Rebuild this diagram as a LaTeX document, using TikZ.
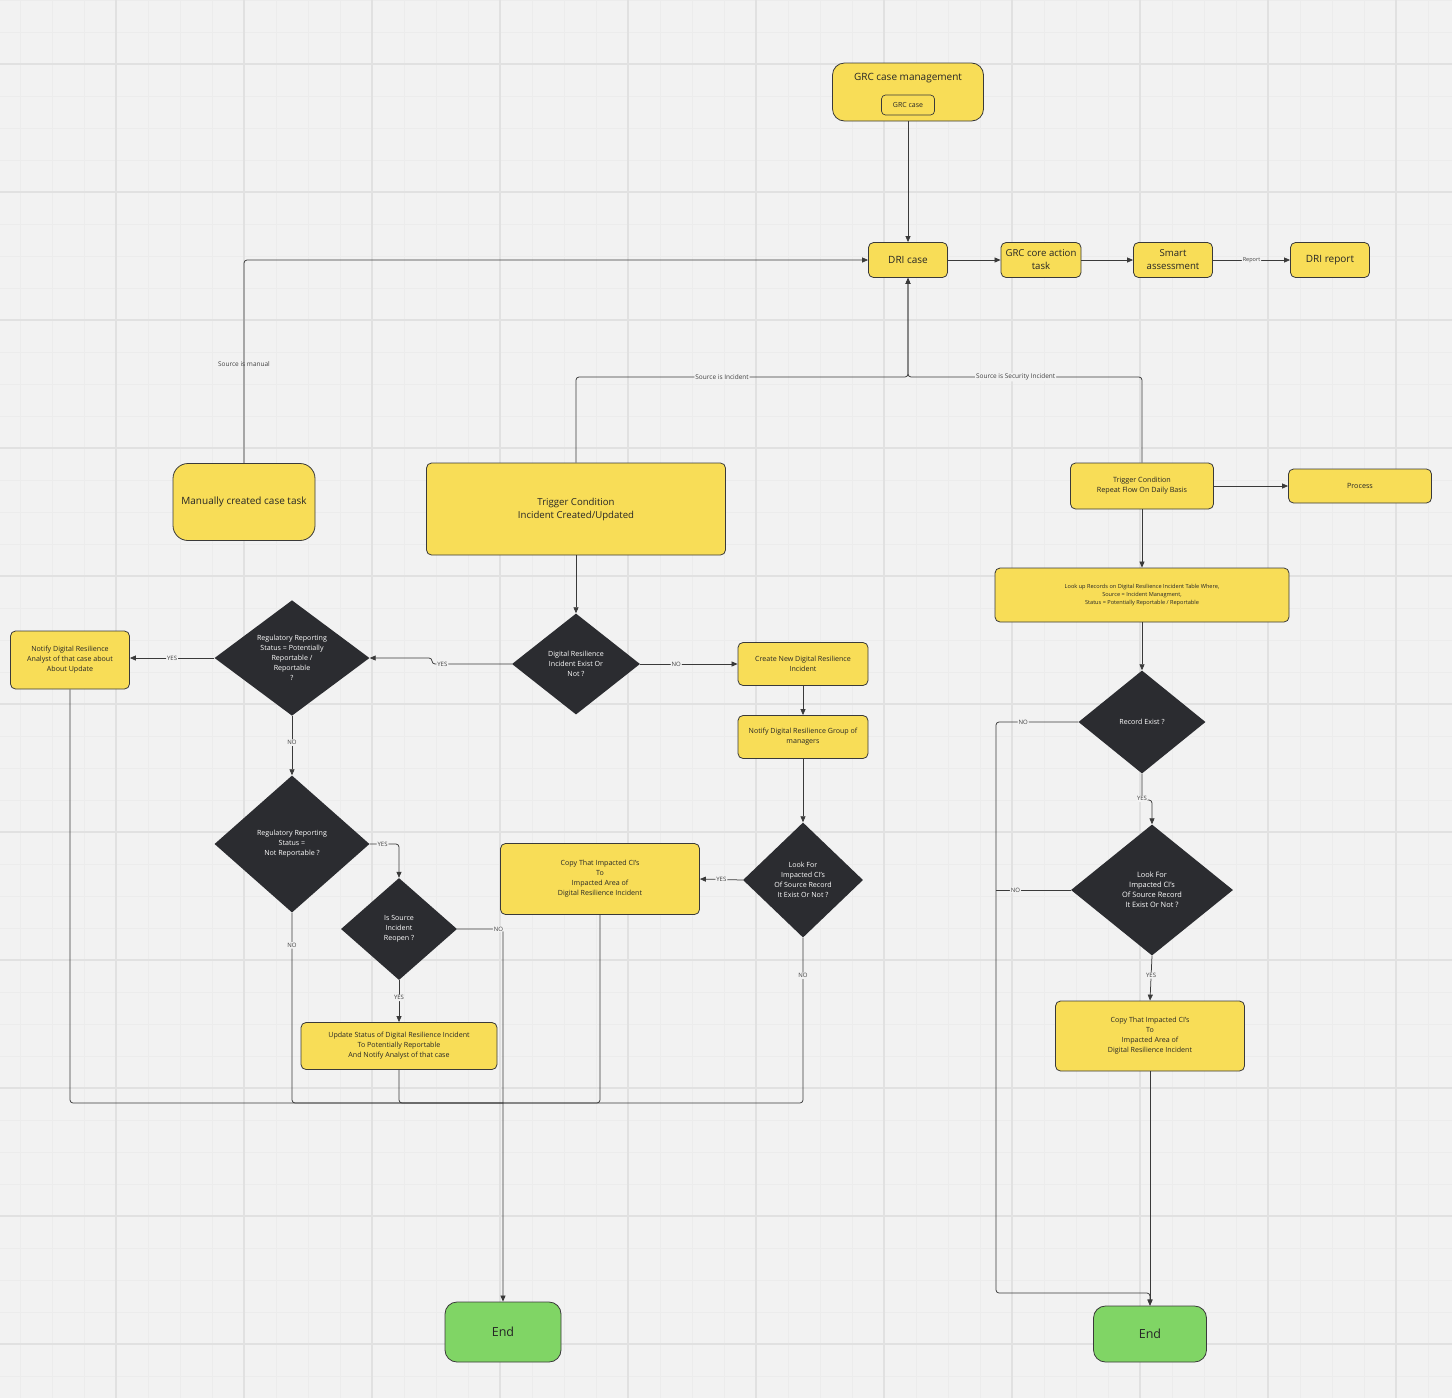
\documentclass[tikz,border=0pt]{standalone}
\usepackage{fontspec}
\setmainfont{Open Sans}
\usetikzlibrary{shapes.geometric,arrows.meta}
\definecolor{bg}{HTML}{F2F2F2}
\definecolor{gmin}{HTML}{ECECEC}
\definecolor{gmaj}{HTML}{E1E1E1}
\definecolor{yel}{HTML}{F8DD57}
\definecolor{dk}{HTML}{2B2C30}
\definecolor{grn}{HTML}{80D565}
\definecolor{lnc}{HTML}{3A3A3A}
\newcommand\myfs[2]{\fontsize{#1}{#2}\selectfont}
\begin{document}
\begin{tikzpicture}[x=1pt,y=-1pt,
  box/.style={draw=lnc, line width=0.8pt, fill=yel, rounded corners=5pt, align=center, inner sep=2pt, text=black!85, font=\myfs{7.1}{10}},
  dia/.style={shape=diamond, fill=dk, draw=none, text=white, align=center, inner sep=0pt, font=\myfs{7.1}{10}},
  endbox/.style={draw=lnc, line width=0.8pt, fill=grn, rounded corners=12pt, font=\myfs{12.5}{14}, text=black!85},
  lab/.style={fill=bg, inner sep=1pt, font=\myfs{6}{7}, text=black!75},
  labnf/.style={inner sep=1pt, font=\myfs{6.5}{7}, text=black!75},
  conn/.style={draw=lnc, line width=0.75pt, rounded corners=3pt},
  arr/.style={conn, -{Triangle[length=6pt,width=5pt]}}
]
\useasboundingbox (0,0) rectangle (1452,1398);
\fill[bg] (0,0) rectangle (1452,1398);
\foreach \x in {20,52,...,1452} \draw[gmin, line width=0.6pt] (\x,0) -- (\x,1398);
\foreach \y in {0,32,...,1398} \draw[gmin, line width=0.6pt] (0,\y) -- (1452,\y);
\foreach \x in {116,244,...,1452} \draw[gmaj, line width=1.4pt] (\x,0) -- (\x,1398);
\foreach \y in {64,192,...,1398} \draw[gmaj, line width=1.4pt] (0,\y) -- (1452,\y);

% top
\node[box, minimum width=151pt, minimum height=58pt, rounded corners=12pt] (grc) at (908,92) {};
\node[font=\myfs{10}{12}, text=black!85] (grct) at (908,78) {GRC case management};
\node[box, rounded corners=4pt, minimum width=53pt, minimum height=20pt, font=\myfs{7}{8}, line width=0.7pt] (grcin) at (908,105) {GRC case};

\node[box, minimum width=79pt, minimum height=35pt, font=\myfs{10}{13}] (dri) at (908,260) {DRI case};
\node[box, minimum width=80pt, minimum height=35pt, font=\myfs{9.6}{13}] (core) at (1041,260) {GRC core action\\task};
\node[box, minimum width=79pt, minimum height=35pt, font=\myfs{9.6}{13}] (smart) at (1173,260) {Smart\\assessment};
\node[box, minimum width=79pt, minimum height=35pt, font=\myfs{10}{13}] (drir) at (1330,260) {DRI report};

\node[box, minimum width=142pt, minimum height=77pt, rounded corners=15pt, font=\myfs{10}{12}] (man) at (244,502) {Manually created case task};
\node[box, minimum width=299pt, minimum height=92pt, font=\myfs{9.6}{13}] (trig) at (576,509) {Trigger Condition\\Incident Created/Updated};
\node[box, minimum width=143pt, minimum height=46pt, font=\myfs{7.2}{10}] (trig2) at (1142,486) {Trigger Condition\\Repeat Flow On Daily Basis};
\node[box, minimum width=143pt, minimum height=34pt, font=\myfs{7.2}{10}] (proc) at (1360,486) {Process};
\node[box, minimum width=294pt, minimum height=54pt, font=\myfs{5.6}{8}] (look) at (1142,595) {Look up Records on Digital Resilience Incident Table Where,\\Source = Incident Managment,\\Status = Potentially Reportable / Reportable};

% left / middle
\node[dia, minimum width=128pt, minimum height=101pt] (dex) at (576,664) {Digital Resilience\\Incident Exist Or\\Not ?};
\node[dia, minimum width=155pt, minimum height=114pt] (reg) at (292,658) {Regulatory Reporting\\Status = Potentially\\Reportable /\\Reportable\\?};
\node[box, minimum width=119pt, minimum height=58pt] (nota) at (70,660) {Notify Digital Resilience\\Analyst of that case about\\About Update};
\node[box, minimum width=130pt, minimum height=43pt] (create) at (803,664) {Create New Digital Resilience\\Incident};
\node[box, minimum width=130pt, minimum height=43pt] (notg) at (803,737) {Notify Digital Resilience Group of\\managers};
\node[dia, minimum width=120pt, minimum height=115pt] (lk1) at (803,880) {Look For\\Impacted CI's\\Of Source Record\\It Exist Or Not ?};
\node[box, minimum width=199pt, minimum height=71pt] (cp1) at (600,879) {Copy That Impacted CI's\\To\\Impacted Area of\\Digital Resilience Incident};
\node[dia, minimum width=155pt, minimum height=137pt] (nrep) at (292,844) {Regulatory Reporting\\Status =\\Not Reportable ?};
\node[dia, minimum width=116pt, minimum height=102pt] (reo) at (399,929) {Is Source\\Incident\\Reopen ?};
\node[box, minimum width=196pt, minimum height=47pt] (upd) at (399,1046) {Update Status of Digital Resilience Incident\\To Potentially Reportable\\And Notify Analyst of that case};
\node[endbox, minimum width=116pt, minimum height=60pt] (end1) at (503,1332) {End};

% right
\node[dia, minimum width=127pt, minimum height=103pt] (rex) at (1142,722) {Record Exist ?};
\node[dia, minimum width=162pt, minimum height=131pt, font=\myfs{7.4}{10}] (lk2) at (1152,890) {Look For\\Impacted CI's\\Of Source Record\\It Exist Or Not ?};
\node[box, minimum width=189pt, minimum height=70pt] (cp2) at (1150,1036) {Copy That Impacted CI's\\To\\Impacted Area of\\Digital Resilience Incident};
\node[endbox, minimum width=113pt, minimum height=56pt] (end2) at (1150,1334) {End};

% connectors top
\draw[arr] (grc) -- (dri);
\draw[arr] (dri) -- (core);
\draw[arr] (core) -- (smart);
\draw[arr] (smart) -- node[lab, font=\myfs{5.5}{6}]{Report} (drir);
\draw[arr] (man.north) |- node[labnf, pos=0.245]{Source is manual} (dri.west);
\coordinate (j) at (908,377);
\draw[arr] (trig.north) |- node[lab, font=\myfs{6.5}{7}, pos=0.72]{Source is Incident} (j) -- (dri.south);
\draw[arr] (trig2.north) |- node[lab, font=\myfs{6.5}{7}, pos=0.77]{Source is Security Incident} (j) -- (dri.south);
\draw[arr] (trig2) -- (proc);
\draw[arr] (trig2) -- (look);
\draw[arr] (look) -- (rex);

% middle connectors
\draw[arr] (trig) -- (dex);
\coordinate (k1) at (432,664);
\draw[arr] (dex.west) -- node[lab, pos=0.87]{YES} (k1) |- (reg.east);
\draw[arr] (dex.east) -- node[lab, pos=0.37]{NO} (create.west);
\draw[arr] (create) -- (notg);
\draw[arr] (notg) -- (lk1);
\draw[arr] (lk1.west) -- node[lab]{YES} (cp1.east);
\draw[arr] (reg.west) -- node[lab]{YES} (nota.east |- reg.west);
\draw[arr] (reg.south) -- node[lab, pos=0.45]{NO} (nrep.north);
\draw[arr] (nrep.east) -| node[lab, pos=0.22]{YES} (reo.north);
\draw[arr] (reo.south) -- node[lab, pos=0.42]{YES} (upd.north);
\draw[arr] (reo.east) -| node[lab, pos=0.45]{NO} (end1.north);
\coordinate (m) at (503,1103);
\draw[conn] (nota.south) |- (m);
\draw[conn] (nrep.south) |- node[lab, pos=0.086]{NO} (m);
\draw[conn] (upd.south) |- (m);
\draw[conn] (cp1.south) |- (m);
\draw[conn] (lk1.south) |- node[lab, pos=0.115]{NO} (m);

% right connectors
\coordinate (r1) at (996,722);
\coordinate (r2) at (1150,1293);
\coordinate (r3) at (1142,800);
\coordinate (r4) at (996,890);
\draw[arr] (rex.west) -- node[lab, pos=0.67]{NO} (r1) |- (r2) -- (end2.north);
\draw[arr] (rex.south) -- node[lab, pos=0.95]{YES} (r3) -| (lk2.north);
\draw[conn] (lk2.west) -- node[lab, pos=0.74]{NO} (r4);
\draw[arr] (lk2.south) -- node[lab, pos=0.44]{YES} (cp2.north);
\draw[arr] (cp2) -- (end2);
\end{tikzpicture}
\end{document}
